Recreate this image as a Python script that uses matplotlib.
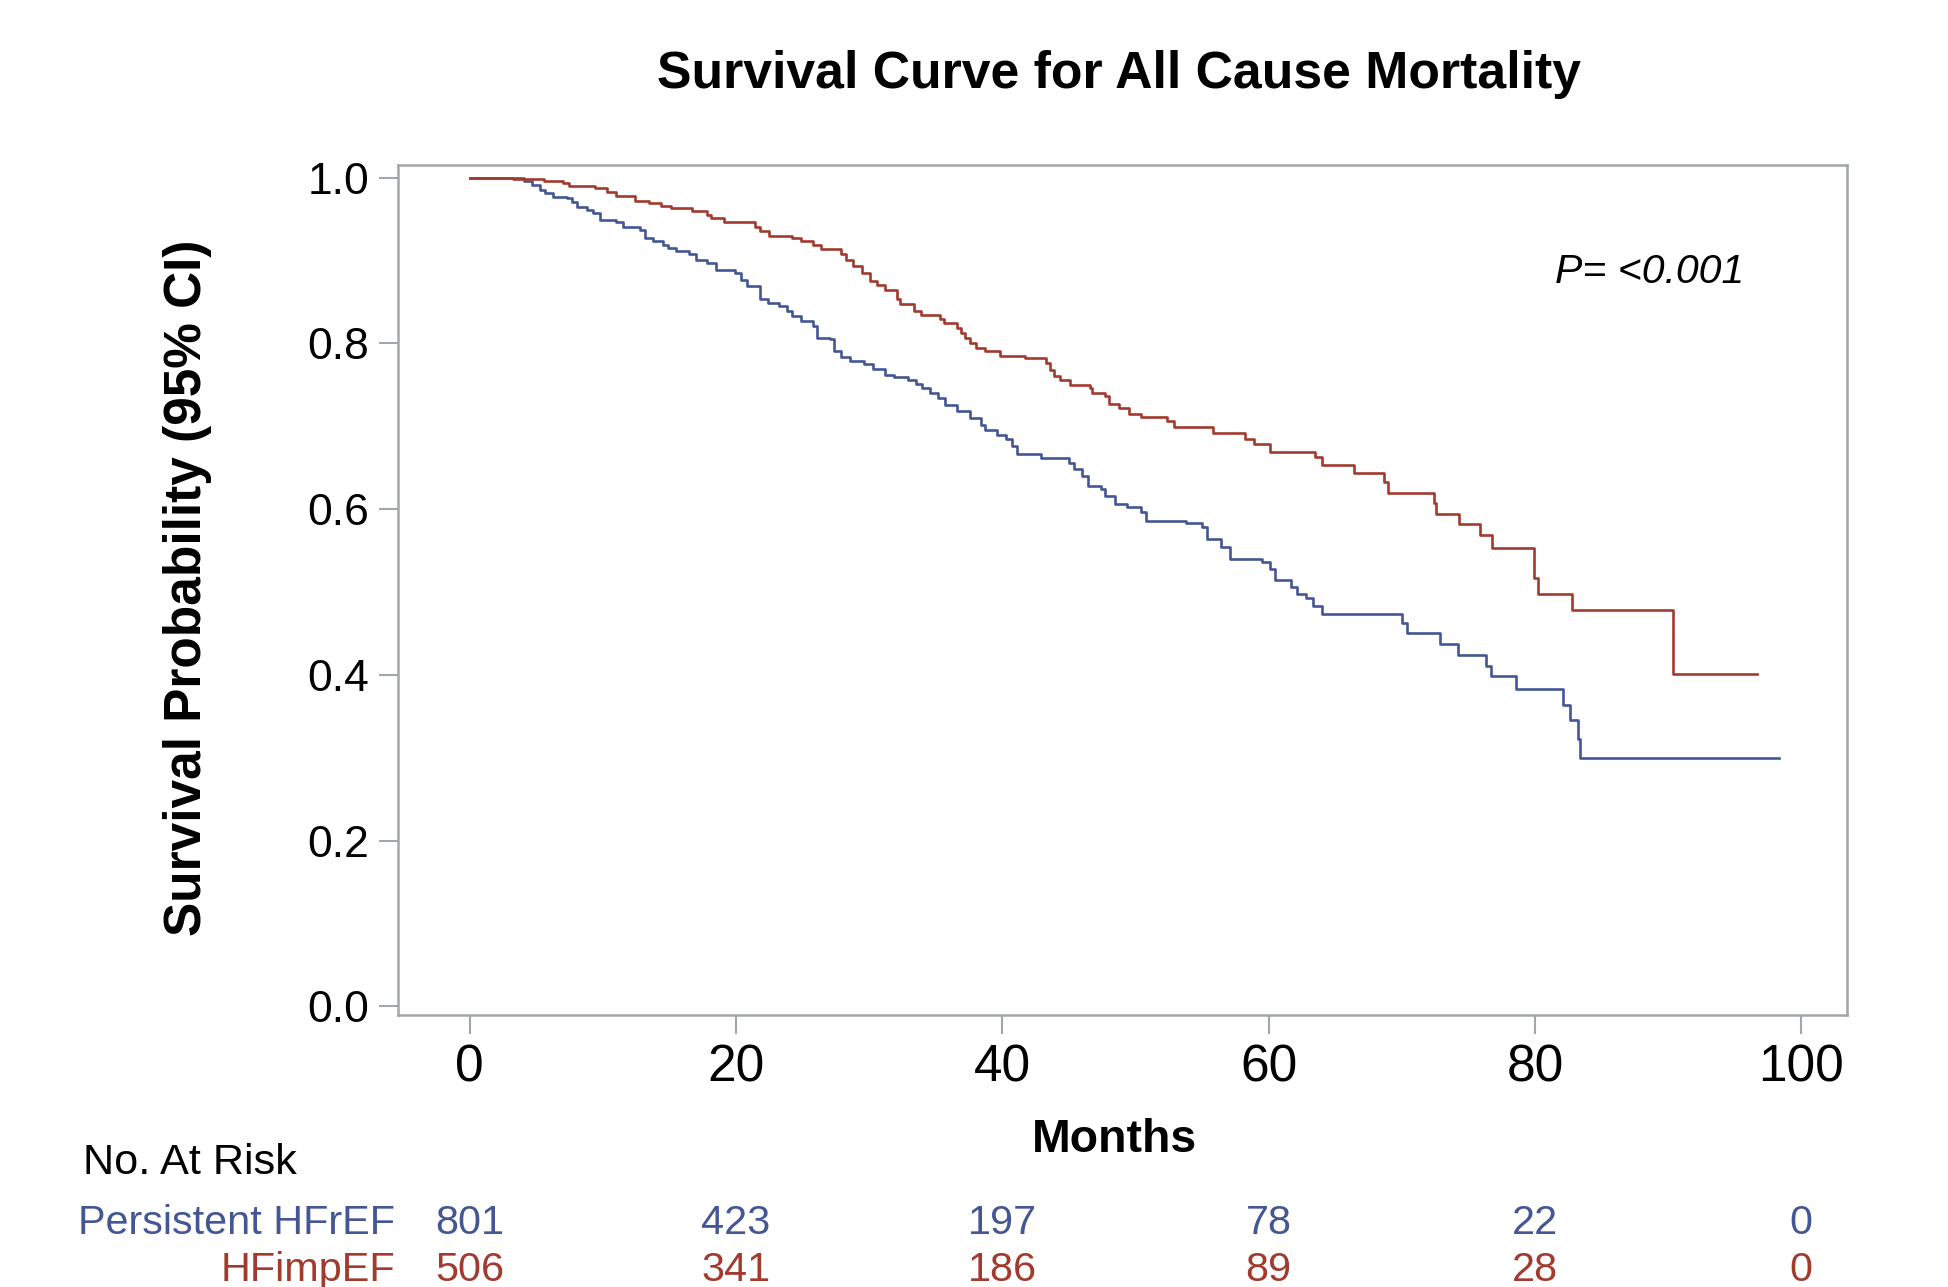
import matplotlib
matplotlib.use("Agg")
import matplotlib.pyplot as plt
import matplotlib.transforms as mtransforms
from matplotlib import font_manager

# Kaplan-Meier steps (month, survival after the drop)
hfref_months = [0, 3.7, 4.1, 4.7, 5.3, 5.7, 6.3, 7.3, 7.7, 8.1, 8.8, 9.3, 9.8, 11.0, 11.5,
                12.8, 13.2, 13.8, 14.5, 14.9, 15.5, 16.5, 17.0, 17.8, 18.5, 19.9, 20.4,
                20.8, 21.8, 22.4, 23.2, 23.8, 24.2, 24.9, 25.8, 26.1, 27.1, 27.4, 27.9,
                28.6, 29.6, 30.3, 31.2, 31.9, 32.9, 33.5, 34.0, 34.6, 35.2, 35.7, 36.6,
                37.6, 38.4, 38.7, 39.6, 40.3, 40.7, 41.1, 42.9, 45.0, 45.4, 46.0, 46.4,
                47.4, 47.7, 48.5, 49.4, 50.4, 50.8, 53.8, 55.0, 55.4, 56.4, 57.1, 59.5,
                60.1, 60.5, 61.7, 62.1, 62.8, 63.3, 64.0, 70.0, 70.4, 72.9, 74.2, 76.3,
                76.7, 78.6, 82.1, 82.6, 83.2, 83.4, 98.3]
hfref_surv = [1.0, 0.999, 0.996, 0.991, 0.985, 0.981, 0.977, 0.975, 0.971, 0.965, 0.961,
              0.957, 0.949, 0.946, 0.940, 0.937, 0.927, 0.923, 0.919, 0.915, 0.911, 0.908,
              0.901, 0.897, 0.889, 0.885, 0.877, 0.869, 0.853, 0.849, 0.845, 0.839, 0.833,
              0.827, 0.821, 0.807, 0.805, 0.791, 0.783, 0.779, 0.775, 0.769, 0.762, 0.760,
              0.756, 0.751, 0.746, 0.740, 0.734, 0.726, 0.718, 0.710, 0.702, 0.696, 0.690,
              0.685, 0.676, 0.666, 0.662, 0.656, 0.648, 0.640, 0.628, 0.624, 0.616, 0.606,
              0.602, 0.596, 0.586, 0.583, 0.578, 0.564, 0.554, 0.540, 0.536, 0.528, 0.514,
              0.506, 0.498, 0.493, 0.483, 0.473, 0.463, 0.450, 0.437, 0.424, 0.411, 0.398,
              0.383, 0.363, 0.345, 0.322, 0.300, 0.300]

hfimp_months = [0, 3.3, 5.6, 7.0, 7.5, 9.4, 10.3, 11.0, 12.4, 13.5, 14.4, 15.1, 16.7, 17.8,
                18.1, 19.1, 21.4, 21.8, 22.5, 24.2, 24.9, 25.8, 26.4, 27.9, 28.3, 28.8,
                29.5, 30.1, 30.6, 31.2, 32.1, 32.3, 33.4, 33.9, 35.3, 35.6, 36.6, 36.9,
                37.2, 37.6, 38.0, 38.7, 39.8, 41.7, 43.3, 43.6, 43.9, 44.3, 45.1, 46.6,
                46.7, 47.7, 48.0, 48.8, 49.5, 50.4, 52.4, 52.9, 55.8, 58.2, 58.9, 60.1,
                63.5, 64.0, 66.4, 68.7, 69.0, 72.4, 72.6, 74.3, 75.9, 76.8, 79.9, 80.2,
                82.8, 90.4, 96.7]
hfimp_surv = [1.0, 0.998, 0.996, 0.993, 0.990, 0.987, 0.983, 0.978, 0.972, 0.969, 0.966,
              0.963, 0.960, 0.955, 0.951, 0.946, 0.941, 0.936, 0.930, 0.927, 0.924, 0.919,
              0.914, 0.908, 0.901, 0.893, 0.885, 0.875, 0.871, 0.864, 0.853, 0.847, 0.839,
              0.834, 0.830, 0.824, 0.819, 0.813, 0.807, 0.800, 0.795, 0.791, 0.785, 0.782,
              0.776, 0.768, 0.761, 0.756, 0.750, 0.746, 0.740, 0.736, 0.727, 0.722, 0.715,
              0.711, 0.706, 0.699, 0.692, 0.685, 0.679, 0.669, 0.663, 0.653, 0.643, 0.633,
              0.620, 0.607, 0.594, 0.582, 0.569, 0.553, 0.517, 0.498, 0.478, 0.401, 0.401]

# number at risk table
risk_times = [0, 20, 40, 60, 80, 100]
hfref_risk = [801, 423, 197, 78, 22, 0]
hfimp_risk = [506, 341, 186, 89, 28, 0]

BLUE = "#445694"
RED = "#A23A2E"
GREY = "#A2A6AB"

# SAS output uses a narrow Arial for the horizontal text
names = {f.name for f in font_manager.fontManager.ttflist}
if "Liberation Sans Narrow" in names:
    NARROW, K = "Liberation Sans Narrow", 1.0
else:
    NARROW, K = "Liberation Sans", 0.82
plt.rcParams["font.family"] = ["Liberation Sans", "DejaVu Sans"]

W, H = 1948, 1287
fig = plt.figure(figsize=(W / 100, H / 100), dpi=100)
ax = fig.add_axes([397.5 / W, (H - 1015) / H, (1847.3 - 397.5) / W, (1015 - 165.2) / H])

ax.step(hfref_months, hfref_surv, where="post", color=BLUE, lw=1.9)
ax.step(hfimp_months, hfimp_surv, where="post", color=RED, lw=1.9)

ax.set_xlim(-5.41, 103.45)
ax.set_ylim(-0.0105, 1.015)
ax.set_xticks(risk_times)
ax.set_yticks([0.0, 0.2, 0.4, 0.6, 0.8, 1.0])
ax.set_yticklabels(["0.0", "0.2", "0.4", "0.6", "0.8", "1.0"])
for sp in ax.spines.values():
    sp.set_color(GREY)
    sp.set_linewidth(1.8)
ax.tick_params(direction="out", length=13.4, width=1.5, color=GREY, pad=7)
ax.tick_params(axis="x", labelsize=37)
ax.tick_params(axis="y", labelsize=32)

ax.text(81.5, 0.873, "P= <0.001", fontsize=36 * K, family=NARROW, style="italic",
        ha="left", va="baseline")

fig.text(1119 / W, 1 - 88 / H, "Survival Curve for All Cause Mortality", fontsize=45.5 * K,
         family=NARROW, weight="bold", ha="center", va="baseline")
fig.text(188 / W, 1 - 588 / H, "Survival Probability (95% CI)", fontsize=37, weight="bold",
         rotation=90, ha="center", va="center")
fig.text(1114 / W, 1 - 1151.6 / H, "Months", fontsize=40.7 * K, family=NARROW,
         weight="bold", ha="center", va="baseline")

# at-risk table below the axis
fig.text(83 / W, 1 - 1174 / H, "No. At Risk", fontsize=38 * K, family=NARROW,
         ha="left", va="baseline")
trans = mtransforms.blended_transform_factory(ax.transData, fig.transFigure)
rows = [("Persistent HFrEF", hfref_risk, BLUE, 1233.6), ("HFimpEF", hfimp_risk, RED, 1280.8)]
for label, counts, col, ypx in rows:
    fig.text(395 / W, 1 - ypx / H, label, fontsize=36.3 * K, family=NARROW, color=col,
             ha="right", va="baseline")
    for t, n in zip(risk_times, counts):
        ax.text(t, 1 - ypx / H, str(n), transform=trans, fontsize=36.3 * K, family=NARROW,
                color=col, ha="center", va="baseline", clip_on=False)

fig.savefig("out.png", dpi=100, facecolor="white")
